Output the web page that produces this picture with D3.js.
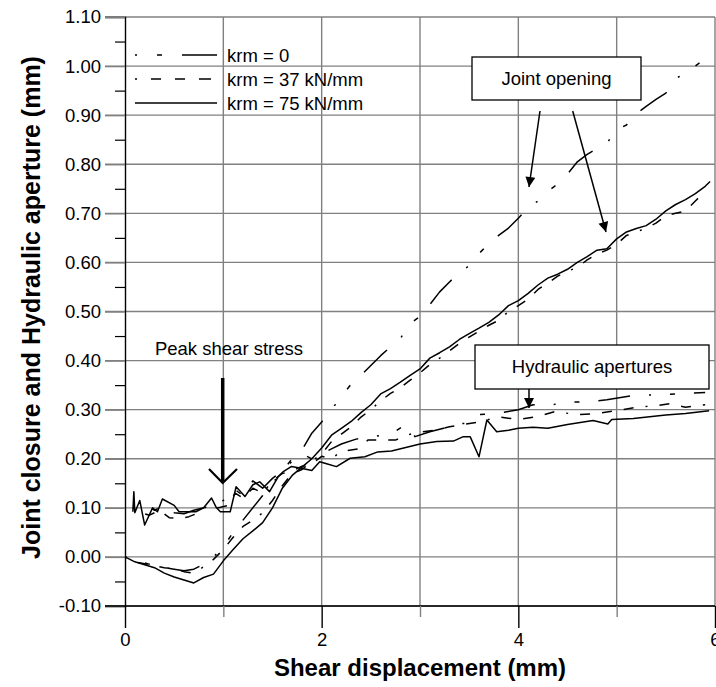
<!DOCTYPE html>
<html><head><meta charset="utf-8">
<script src="https://cdn.jsdelivr.net/npm/d3@7"></script>
<style>html,body{margin:0;padding:0;background:#fff}svg{display:block;font-family:"Liberation Sans",Arial,sans-serif}</style>
</head><body><svg id="c" width="716" height="687"></svg>
<script>
// ---- data ----
const xTickValues = [0, 2, 4, 6];
const xTickLabels = ["0", "2", "4", "6"];
const xMinorTicks = [1, 3, 5];
const yTickValues = [-0.1, 0, 0.1, 0.2, 0.3, 0.4, 0.5, 0.6, 0.7, 0.8, 0.9, 1.0, 1.1];
const yTickLabels = ["-0.10", "0.00", "0.10", "0.20", "0.30", "0.40", "0.50", "0.60", "0.70", "0.80", "0.90", "1.00", "1.10"];
const yMinorTicks = [-0.05, 0.05, 0.15, 0.25, 0.35, 0.45, 0.55, 0.65, 0.75, 0.85, 0.95, 1.05];
const seriesNames = ["krm = 0", "krm = 37 kN/mm", "krm = 75 kN/mm"];

// joint closure / opening (shear displacement mm, value mm)
const closureK0 = [[0,0],[0.1,-0.008],[0.2,-0.012],[0.3,-0.018],[0.4,-0.022],[0.5,-0.025],[0.6,-0.028],[0.7,-0.025],[0.8,-0.015],[0.9,0.0],[1.0,0.02],[1.1,0.05],[1.2,0.075],[1.3,0.1],[1.4,0.125],[1.5,0.15],[1.6,0.175],[1.7,0.2],[1.8,0.218],[1.9,0.252],[2.0,0.275],[2.1,0.3],[2.2,0.327],[2.3,0.352],[2.4,0.37],[2.5,0.39],[2.6,0.41],[2.7,0.428],[2.8,0.445],[2.9,0.475],[3.0,0.49],[3.1,0.514],[3.2,0.54],[3.3,0.56],[3.4,0.58],[3.5,0.593],[3.6,0.618],[3.7,0.638],[3.8,0.655],[3.9,0.67],[4.0,0.69],[4.1,0.712],[4.2,0.725],[4.3,0.745],[4.4,0.76],[4.5,0.78],[4.6,0.805],[4.7,0.82],[4.8,0.832],[4.9,0.843],[5.0,0.87],[5.1,0.88],[5.2,0.903],[5.3,0.918],[5.4,0.932],[5.5,0.945],[5.6,0.975],[5.7,0.985],[5.8,1.0],[5.9,1.015],[5.95,1.025]];
const closureK37 = [[0,0],[0.1,-0.01],[0.2,-0.014],[0.3,-0.018],[0.4,-0.022],[0.5,-0.024],[0.6,-0.03],[0.7,-0.033],[0.8,-0.02],[0.9,-0.005],[1.0,0.015],[1.1,0.04],[1.2,0.062],[1.3,0.075],[1.4,0.09],[1.5,0.115],[1.6,0.145],[1.7,0.17],[1.8,0.178],[1.9,0.195],[2.0,0.21],[2.1,0.235],[2.2,0.25],[2.3,0.265],[2.4,0.285],[2.5,0.3],[2.6,0.318],[2.7,0.333],[2.8,0.345],[2.9,0.36],[3.0,0.375],[3.1,0.392],[3.2,0.405],[3.3,0.42],[3.4,0.435],[3.5,0.448],[3.6,0.46],[3.7,0.472],[3.8,0.482],[3.9,0.5],[4.0,0.512],[4.1,0.525],[4.2,0.545],[4.3,0.558],[4.4,0.572],[4.5,0.582],[4.6,0.59],[4.7,0.605],[4.8,0.617],[4.9,0.625],[5.0,0.637],[5.1,0.655],[5.2,0.662],[5.3,0.67],[5.4,0.68],[5.5,0.695],[5.6,0.7],[5.7,0.705],[5.8,0.725],[5.9,0.745]];
const closureK75 = [[0,0],[0.1,-0.01],[0.2,-0.016],[0.3,-0.022],[0.4,-0.033],[0.5,-0.041],[0.6,-0.047],[0.7,-0.053],[0.8,-0.042],[0.9,-0.035],[1.0,-0.008],[1.1,0.015],[1.2,0.037],[1.3,0.053],[1.4,0.07],[1.5,0.1],[1.6,0.14],[1.7,0.166],[1.8,0.183],[1.9,0.2],[2.0,0.222],[2.1,0.248],[2.2,0.262],[2.3,0.276],[2.4,0.294],[2.5,0.31],[2.6,0.332],[2.7,0.343],[2.8,0.356],[2.9,0.37],[3.0,0.383],[3.1,0.405],[3.2,0.416],[3.3,0.428],[3.4,0.443],[3.5,0.455],[3.6,0.466],[3.7,0.478],[3.8,0.493],[3.9,0.512],[4.0,0.522],[4.1,0.537],[4.2,0.554],[4.3,0.568],[4.4,0.576],[4.5,0.586],[4.6,0.6],[4.7,0.612],[4.8,0.625],[4.9,0.628],[5.0,0.648],[5.1,0.662],[5.2,0.669],[5.3,0.675],[5.4,0.688],[5.5,0.705],[5.6,0.718],[5.7,0.728],[5.8,0.74],[5.9,0.755],[5.95,0.765]];

// hydraulic apertures
const hydraulicK0 = [[0.08,0.105],[0.2,0.1],[0.3,0.095],[0.4,0.105],[0.5,0.09],[0.6,0.088],[0.7,0.095],[0.8,0.1],[0.9,0.11],[1.0,0.115],[1.1,0.14],[1.2,0.125],[1.3,0.155],[1.4,0.14],[1.5,0.16],[1.6,0.175],[1.7,0.195],[1.8,0.21],[1.9,0.2],[2.0,0.21],[2.1,0.22],[2.2,0.23],[2.35,0.24],[2.5,0.245],[2.7,0.25],[2.85,0.269],[2.95,0.245],[3.1,0.255],[3.24,0.262],[3.35,0.272],[3.46,0.272],[3.55,0.289],[3.81,0.293],[4.0,0.3],[4.15,0.31],[4.3,0.308],[4.47,0.315],[4.7,0.316],[4.9,0.32],[5.17,0.329],[5.4,0.33],[5.6,0.332],[5.9,0.335]];
const hydraulicK37 = [[0.08,0.1],[0.15,0.09],[0.25,0.085],[0.35,0.095],[0.45,0.08],[0.55,0.078],[0.65,0.082],[0.75,0.09],[0.85,0.106],[0.95,0.1],[1.05,0.105],[1.12,0.13],[1.2,0.12],[1.3,0.14],[1.4,0.13],[1.5,0.155],[1.6,0.17],[1.7,0.175],[1.8,0.185],[1.9,0.19],[2.0,0.205],[2.1,0.2],[2.2,0.215],[2.37,0.22],[2.47,0.238],[2.62,0.238],[2.75,0.238],[2.9,0.25],[3.02,0.255],[3.15,0.258],[3.3,0.265],[3.45,0.27],[3.6,0.275],[3.8,0.285],[4.0,0.28],[4.2,0.286],[4.37,0.296],[4.6,0.29],[4.8,0.292],[5.0,0.298],[5.2,0.305],[5.4,0.308],[5.54,0.312],[5.7,0.305],[5.9,0.31]];
const hydraulicK75 = [[0.08,0.092],[0.09,0.133],[0.1,0.09],[0.15,0.115],[0.2,0.065],[0.28,0.1],[0.33,0.092],[0.38,0.118],[0.5,0.105],[0.55,0.092],[0.65,0.092],[0.72,0.092],[0.8,0.1],[0.88,0.12],[0.93,0.1],[0.97,0.092],[1.07,0.092],[1.13,0.143],[1.22,0.123],[1.3,0.147],[1.37,0.153],[1.47,0.133],[1.56,0.164],[1.61,0.174],[1.69,0.184],[1.78,0.181],[1.9,0.176],[1.98,0.194],[2.05,0.19],[2.15,0.184],[2.29,0.201],[2.44,0.204],[2.57,0.214],[2.71,0.216],[3.0,0.23],[3.17,0.235],[3.34,0.236],[3.44,0.245],[3.51,0.245],[3.6,0.204],[3.68,0.279],[3.78,0.255],[3.9,0.258],[4.0,0.262],[4.15,0.264],[4.3,0.262],[4.5,0.27],[4.76,0.278],[4.91,0.271],[4.95,0.28],[5.17,0.282],[5.5,0.289],[5.7,0.292],[5.94,0.298]];

// ---- drawing ----
const svg = d3.select("#c");
const x = d3.scaleLinear().domain([0, 6]).range([125, 715]);
const y = d3.scaleLinear().domain([-0.1, 1.1]).range([606, 17]);
const FONT = 18.5;
const grid = "#808080";

// gridlines
svg.append("g").selectAll("line").data(yTickValues).join("line")
  .attr("x1", 105).attr("x2", x(6)).attr("y1", d => y(d)).attr("y2", d => y(d))
  .attr("stroke", grid).attr("stroke-width", 1.4);
svg.append("g").selectAll("line").data(d3.range(1, 7)).join("line")
  .attr("x1", d => x(d)).attr("x2", d => x(d)).attr("y1", y(1.1)).attr("y2", y(-0.1))
  .attr("stroke", grid).attr("stroke-width", 1.4);

// y axis
const yAxis = svg.append("g").attr("transform", `translate(${x(0)},0)`)
  .call(d3.axisLeft(y).tickValues(yTickValues).tickFormat((d, i) => yTickLabels[i]).tickSize(20).tickPadding(4));
yAxis.select(".domain").attr("stroke", "#000").attr("stroke-width", 1.4);
yAxis.selectAll(".tick line").attr("stroke", grid).attr("stroke-width", 1.4);
yAxis.selectAll("text").attr("font-size", FONT).attr("fill", "#000").attr("font-family", "Liberation Sans, Arial, sans-serif");
svg.append("g").attr("transform", `translate(${x(0)},0)`)
  .call(d3.axisLeft(y).tickValues(yMinorTicks).tickFormat("").tickSize(10))
  .call(g => g.select(".domain").remove())
  .selectAll(".tick line").attr("stroke", "#000").attr("stroke-width", 1.2);

// x axis
const xAxis = svg.append("g").attr("transform", `translate(0,${y(-0.1)})`)
  .call(d3.axisBottom(x).tickValues(xTickValues).tickFormat((d, i) => xTickLabels[i]).tickSize(22).tickPadding(5));
xAxis.select(".domain").attr("stroke", "#000").attr("stroke-width", 1.4).attr("d", `M105,0H${x(6)}`);
xAxis.selectAll(".tick line").attr("stroke", "#000").attr("stroke-width", 1.4);
xAxis.selectAll("text").attr("font-size", FONT).attr("fill", "#000").attr("font-family", "Liberation Sans, Arial, sans-serif");
svg.append("g").attr("transform", `translate(0,${y(-0.1)})`)
  .call(d3.axisBottom(x).tickValues(xMinorTicks).tickFormat("").tickSize(11))
  .call(g => g.select(".domain").remove())
  .selectAll(".tick line").attr("stroke", grid).attr("stroke-width", 1.4);

// axis titles
svg.append("text").attr("x", (x(0) + x(6)) / 2).attr("y", 676).attr("text-anchor", "middle")
  .attr("font-size", 24).attr("font-weight", "bold").text("Shear displacement (mm)");
svg.append("text").attr("transform", `translate(40,${(y(-0.1) + y(1.1)) / 2 - 4}) rotate(-90)`).attr("text-anchor", "middle")
  .attr("font-size", 25).attr("font-weight", "bold").text("Joint closure and Hydraulic aperture (mm)");

// series
const dashes = ["2,19,5,19,32,19", "2,12,10,12,10,12,10,12", null];
const line = d3.line().x(d => x(d[0])).y(d => y(d[1]));
const allSeries = [
  {data: closureK0, s: 0}, {data: closureK37, s: 1}, {data: closureK75, s: 2},
  {data: hydraulicK0, s: 0}, {data: hydraulicK37, s: 1}, {data: hydraulicK75, s: 2}
];
svg.append("g").selectAll("path").data(allSeries).join("path")
  .attr("d", d => line(d.data)).attr("fill", "none").attr("stroke", "#000")
  .attr("stroke-width", 1.5).attr("stroke-linejoin", "round")
  .attr("stroke-dasharray", d => dashes[d.s]);

// legend
const lg = svg.append("g");
seriesNames.forEach((name, i) => {
  const cy = 55 + i * 24;
  lg.append("line").attr("x1", 135).attr("x2", 217).attr("y1", cy).attr("y2", cy)
    .attr("stroke", "#000").attr("stroke-width", 1.5).attr("stroke-dasharray", i === 0 ? "2,20,5,20,35,20" : (i === 1 ? "2,14,10,14,10,14,12,14" : null));
  lg.append("text").attr("x", 227).attr("y", cy + 6.5).attr("font-size", FONT).text(name);
});

// defs: arrowheads
const defs = svg.append("defs");
defs.append("marker").attr("id", "tri2").attr("viewBox", "0 0 10 10").attr("refX", 10).attr("refY", 5)
  .attr("markerWidth", 13).attr("markerHeight", 10).attr("markerUnits", "userSpaceOnUse").attr("orient", "auto")
  .append("path").attr("d", "M0,0L10,5L0,10z").attr("fill", "#000");

// Peak shear stress annotation
svg.append("text").attr("x", 229).attr("y", 355).attr("text-anchor", "middle").attr("font-size", FONT).text("Peak shear stress");
svg.append("line").attr("x1", 222.7).attr("x2", 222.7).attr("y1", 378).attr("y2", 482)
  .attr("stroke", "#000").attr("stroke-width", 3.5);
svg.append("path").attr("d", "M209,469L222.7,483L237,469").attr("fill", "none").attr("stroke", "#000").attr("stroke-width", 2.2);

// Joint opening box
svg.append("rect").attr("x", 472).attr("y", 57).attr("width", 169).attr("height", 43)
  .attr("fill", "#fff").attr("stroke", "#000").attr("stroke-width", 1.3);
svg.append("text").attr("x", 556.5).attr("y", 85).attr("text-anchor", "middle").attr("font-size", FONT).text("Joint opening");
svg.append("line").attr("x1", 540).attr("y1", 111).attr("x2", 529).attr("y2", 187)
  .attr("stroke", "#000").attr("stroke-width", 1.5).attr("marker-end", "url(#tri2)");
svg.append("line").attr("x1", 572.7).attr("y1", 111).attr("x2", 606).attr("y2", 232)
  .attr("stroke", "#000").attr("stroke-width", 1.5).attr("marker-end", "url(#tri2)");

// Hydraulic apertures box
svg.append("rect").attr("x", 475).attr("y", 345).attr("width", 234).attr("height", 44)
  .attr("fill", "#fff").attr("stroke", "#000").attr("stroke-width", 1.3);
svg.append("text").attr("x", 592).attr("y", 373).attr("text-anchor", "middle").attr("font-size", FONT).text("Hydraulic apertures");
svg.append("line").attr("x1", 529).attr("y1", 389).attr("x2", 529).attr("y2", 408)
  .attr("stroke", "#000").attr("stroke-width", 1.5).attr("marker-end", "url(#tri2)");
</script></body></html>
